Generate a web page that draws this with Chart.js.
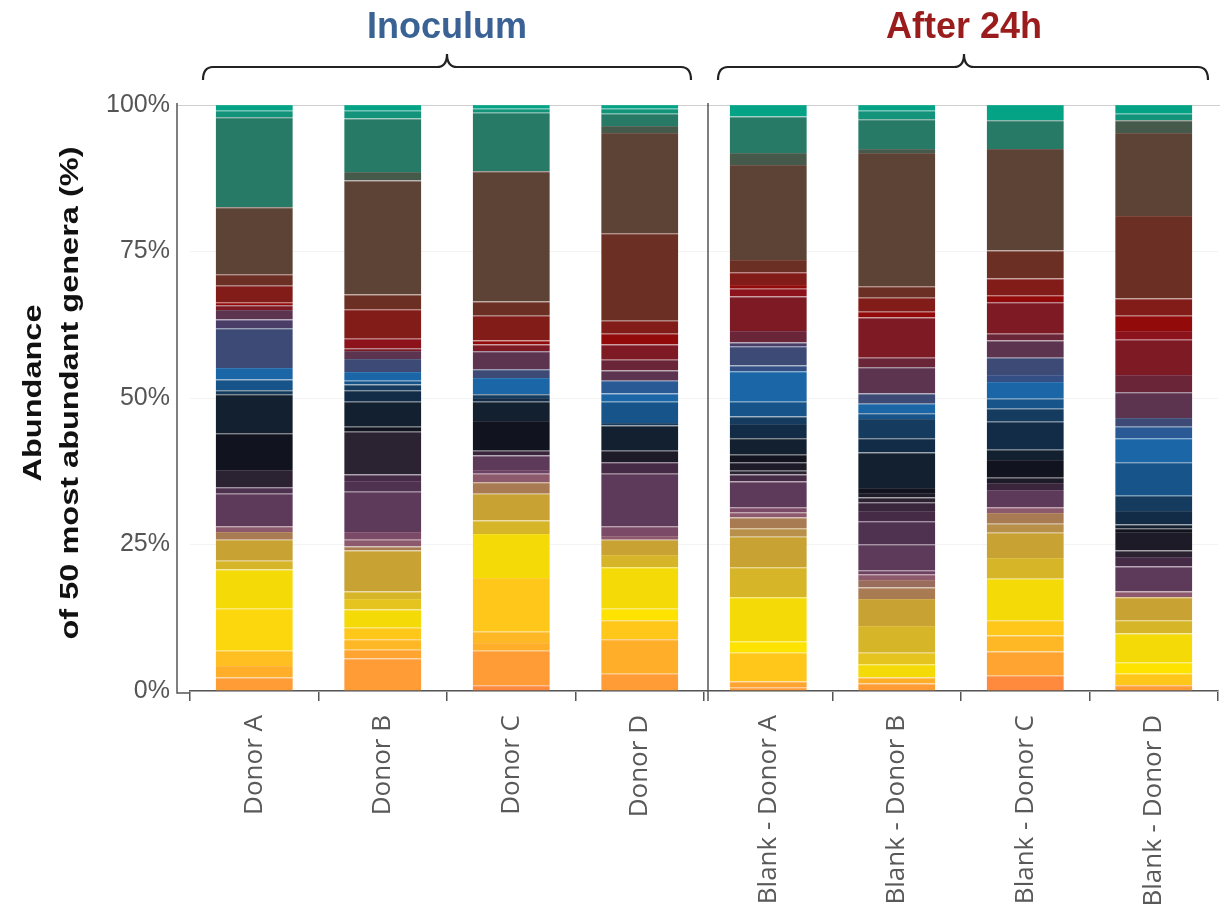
<!DOCTYPE html>
<html>
<head>
<meta charset="utf-8">
<script src="https://cdn.jsdelivr.net/npm/chart.js@4.4.1/dist/chart.umd.min.js"></script>
<style>
  html, body { margin: 0; padding: 0; background: #fff; }
  #wrap { position: relative; width: 1220px; height: 919px; overflow: hidden; }
  #chart { position: absolute; left: 0; top: 0; }
  #brackets { position: absolute; left: 0; top: 0; }
  .group {
    position: absolute; top: 8px; width: 320px; text-align: center;
    font-family: "Liberation Sans", Arial, sans-serif; font-weight: bold;
    font-size: 36px; line-height: 36px;
  }
  #ytitle {
    position: absolute; left: -249px; top: 356px; width: 600px; height: 74px;
    line-height: 37px; text-align: center; white-space: nowrap;
    font-family: "Liberation Sans", Arial, sans-serif; font-weight: bold; font-size: 25px;
    color: #111; transform: rotate(-90deg) scaleX(1.3); transform-origin: center center;
  }
</style>
</head>
<body>
<div id="wrap">
  <canvas id="chart" width="1220" height="919"></canvas>
  <svg id="brackets" width="1220" height="100">
    <path d="M203,80 Q203,67 213,67 L437,67 Q447,67 447,54 Q447,67 457,67 L681,67 Q691,67 691,80"
          fill="none" stroke="#222" stroke-width="2.2"/>
    <path d="M718,80 Q718,67 728,67 L954,67 Q964,67 964,54 Q964,67 974,67 L1198,67 Q1208,67 1208,80"
          fill="none" stroke="#222" stroke-width="2.2"/>
  </svg>
  <div class="group" style="left:287px; color:#3b6294;">Inoculum</div>
  <div class="group" style="left:804px; color:#9b1c1c;">After 24h</div>
  <div id="ytitle">Abundance<br>of 50 most abundant genera (%)</div>
</div>

<script>
// Sample names along the x axis
const sampleLabels = [
  'Donor A', 'Donor B', 'Donor C', 'Donor D',
  'Blank - Donor A', 'Blank - Donor B', 'Blank - Donor C', 'Blank - Donor D'
];

// Relative abundance (%) of the 50 most abundant genera per sample,
// listed from the bottom of the stack (genus 1) to the top (genus 50).
const donorA = [
  0, 2.29, 0, 1.96, 0, 2.61, 0, 7.19, 0, 6.67,
  0, 0, 1.5, 3.6, 0, 1.3, 0, 0.98, 0, 0,
  5.56, 1.11, 0, 0, 2.94, 0, 6.29, 6.65, 0, 0.66,
  1.83, 1.96, 0, 0, 6.8, 1.5, 1.63, 0, 0.79, 0,
  0.52, 2.81, 1.96, 11.44, 0, 0, 15.36, 0, 1.11, 0.98
];
const donorB = [
  0, 5.56, 1.5, 0, 1.76, 0, 1.96, 0, 0, 3.14,
  0, 1.77, 1.31, 6.99, 0, 0.65, 0, 1.18, 1.3, 0,
  6.87, 1.83, 1.11, 0, 7.32, 0, 0.85, 4.25, 1.96, 0.98,
  0.65, 1.5, 0, 0, 2.23, 0, 1.37, 0, 0.46, 1.63,
  0, 5.03, 2.49, 19.47, 0, 1.44, 9.15, 0, 1.29, 1.0
];
const donorC = [
  0.98, 5.88, 0, 1.31, 1.96, 0, 9.15, 0, 0, 7.52,
  0, 0, 2.28, 4.58, 0, 1.96, 0, 1.44, 0, 0.65,
  2.49, 0, 0, 0.78, 0, 0, 5.1, 3.27, 0.65, 0.65,
  0, 2.75, 0, 0, 1.5, 0, 3.07, 0, 1.18, 0,
  0.65, 4.25, 2.42, 22.22, 0, 0, 10.0, 0, 0.66, 0.65
];
const donorD = [
  0, 2.94, 0, 5.88, 0, 0, 3.27, 0, 1.96, 7.06,
  0, 0, 2.09, 2.62, 0, 0, 0, 0.65, 1.63, 0,
  8.96, 0, 1.96, 0, 0, 1.96, 0, 4.31, 0, 0.46,
  3.6, 1.43, 2.16, 0, 0, 0, 1.77, 1.83, 2.61, 0,
  1.83, 2.22, 14.9, 17.13, 0, 1.18, 2.09, 0, 0.85, 0.65
];
const blankA = [
  0, 0.65, 0.98, 0, 0, 0, 4.91, 0, 1.96, 7.51,
  0, 0, 5.1, 5.23, 1.44, 1.83, 0, 0.91, 0.85, 0,
  4.38, 0, 1.18, 0, 0.65, 1.44, 1.31, 2.81, 2.42, 1.3,
  2.49, 5.23, 0, 0.98, 3.26, 0.66, 0, 1.96, 5.88, 1.31,
  0.65, 2.16, 2.09, 16.21, 0, 2.09, 6.21, 0, 0, 1.96
];
const blankB = [
  0, 1.29, 0, 1.0, 0, 0, 0, 0, 0, 2.29,
  0, 1.96, 4.57, 4.58, 0, 1.96, 1.3, 0.98, 0, 0.66,
  4.44, 3.92, 1.77, 1.5, 0.79, 0.78, 0.85, 6.08, 2.42, 3.27,
  0.98, 1.63, 0, 0, 1.76, 0, 4.45, 1.63, 6.87, 0,
  0.98, 2.41, 1.96, 22.75, 0, 0.65, 5.1, 0, 1.42, 1.0
];
const blankC = [
  2.61, 0, 4.12, 0, 2.75, 0, 2.61, 0, 0, 7.06,
  0, 0, 3.53, 4.31, 1.57, 1.83, 0, 0.98, 0, 0,
  2.94, 0, 0, 1.18, 0, 0.92, 3.0, 1.77, 4.77, 2.22,
  1.7, 2.88, 0, 1.17, 2.94, 0, 2.94, 1.18, 5.36, 0,
  1.18, 2.87, 4.77, 17.32, 0, 0, 4.91, 0, 0, 2.61
];
const blankD = [
  0, 0.98, 0, 0, 0, 0, 1.96, 0, 1.96, 4.9,
  0, 0, 2.29, 3.92, 0, 0, 0, 0.98, 0, 0,
  4.25, 0, 1.64, 0, 1.11, 3.13, 0.66, 0.65, 2.29, 2.61,
  5.69, 4.12, 1.96, 0, 1.5, 0, 4.38, 2.94, 6.01, 1.51,
  2.61, 2.94, 14.06, 14.18, 0, 2.16, 0, 0, 1.11, 1.5
];

const samples = [donorA, donorB, donorC, donorD, blankA, blankB, blankC, blankD];

// Tick values of the percentage axis
const yTicks = [0, 25, 50, 75, 100];

// One colour per genus, bottom of the stack to top
const genusColors = [
  '#ff8a3d', '#ff9c36', '#ffa431', '#ffae2a', '#ffb825', '#ffbf20', '#ffc71a', '#fcd70e', '#ffe300', '#f4da07',
  '#efd210', '#e5c41f', '#d7b529', '#c8a233', '#b8904a', '#a97b52', '#9a6c5c', '#8c5a6c', '#7a4a66', '#6e4262',
  '#5e3a5a', '#4f3150', '#452b46', '#3a263c', '#2b2232', '#1d1b27', '#11141f', '#12202f', '#122c48', '#153b5e',
  '#17548a', '#1a66a7', '#2a5a95', '#334f86', '#3e4a76', '#4a3e68', '#5c3450', '#6b2539', '#7d1a24', '#8c121c',
  '#920a0a', '#821c18', '#6c2f24', '#5c4336', '#4e5042', '#465a4c', '#277a66', '#1f8a72', '#13937a', '#04a385'
];

// A slightly lighter tint of a colour, used for the thin line on top of each segment
function tint(hex, amount) {
  const n = parseInt(hex.slice(1), 16);
  const mix = c => Math.round(c + (255 - c) * amount);
  return `rgb(${mix(n >> 16)},${mix((n >> 8) & 255)},${mix(n & 255)})`;
}

const datasets = genusColors.map((color, g) => ({
  label: 'Genus ' + (g + 1),
  data: samples.map(s => s[g]),
  backgroundColor: color,
  borderColor: tint(color, 0.12),
  borderWidth: ctx => (ctx.raw > 0 ? { top: 1, right: 0, bottom: 0, left: 0 } : 0),
  borderSkipped: false,
  barPercentage: 0.6,
  categoryPercentage: 1.0
}));

// Axis frame: left axis line, baseline extension and the divider between the two groups
const framePlugin = {
  id: 'frame',
  beforeDatasetsDraw(chart) {
    const { ctx, chartArea: a } = chart;
    ctx.save();
    ctx.strokeStyle = '#cfcfcf';
    ctx.lineWidth = 1;
    ctx.beginPath();
    ctx.moveTo(a.left - 13, a.top + 0.5);
    ctx.lineTo(a.right + 2, a.top + 0.5);
    ctx.stroke();
    ctx.restore();
  },
  afterDatasetsDraw(chart) {
    const { ctx, chartArea: a, scales: { x } } = chart;
    const yx = a.left - 13;
    const sep = (x.getPixelForValue(3) + x.getPixelForValue(4)) / 2 + 4;
    ctx.save();
    ctx.strokeStyle = '#555';
    ctx.lineWidth = 1.5;
    ctx.beginPath();
    ctx.moveTo(yx, a.top - 2);
    ctx.lineTo(yx, a.bottom + 2);
    ctx.lineTo(a.left, a.bottom + 2);
    ctx.moveTo(sep, a.top - 2);
    ctx.lineTo(sep, a.bottom + 10);
    ctx.stroke();
    ctx.restore();
  }
};

new Chart(document.getElementById('chart'), {
  type: 'bar',
  data: { labels: sampleLabels, datasets },
  options: {
    responsive: false,
    animation: false,
    devicePixelRatio: 1,
    layout: { padding: { top: 105, right: 2, bottom: 0, left: 0 } },
    plugins: { legend: { display: false }, tooltip: { enabled: false } },
    scales: {
      x: {
        stacked: true,
        offset: true,
        afterFit: s => { s.height = 228; },
        border: { display: true, color: '#555', width: 1.5 },
        grid: {
          display: true, offset: true, drawOnChartArea: false,
          drawTicks: true, tickLength: 10, color: '#555', lineWidth: 1.5
        },
        ticks: {
          autoSkip: false, minRotation: 90, maxRotation: 90, padding: 14,
          color: '#595959',
          font: { family: '"Open Sans", sans-serif', size: 26 }
        }
      },
      y: {
        stacked: true,
        min: 0,
        max: 100,
        afterFit: s => { s.width = 190; },
        afterBuildTicks: s => { s.ticks = yTicks.map(v => ({ value: v })); },
        border: { display: false },
        grid: {
          drawTicks: false,
          color: ctx => (ctx.tick && ctx.tick.value === 100 ? 'rgba(0,0,0,0)' : '#f3f3f3')
        },
        ticks: {
          padding: 20,
          color: '#555',
          font: { family: '"Liberation Sans", Arial, sans-serif', size: 25 },
          callback: v => v + '%'
        },
        title: { display: false }
      }
    }
  },
  plugins: [framePlugin]
});
</script>
</body>
</html>
